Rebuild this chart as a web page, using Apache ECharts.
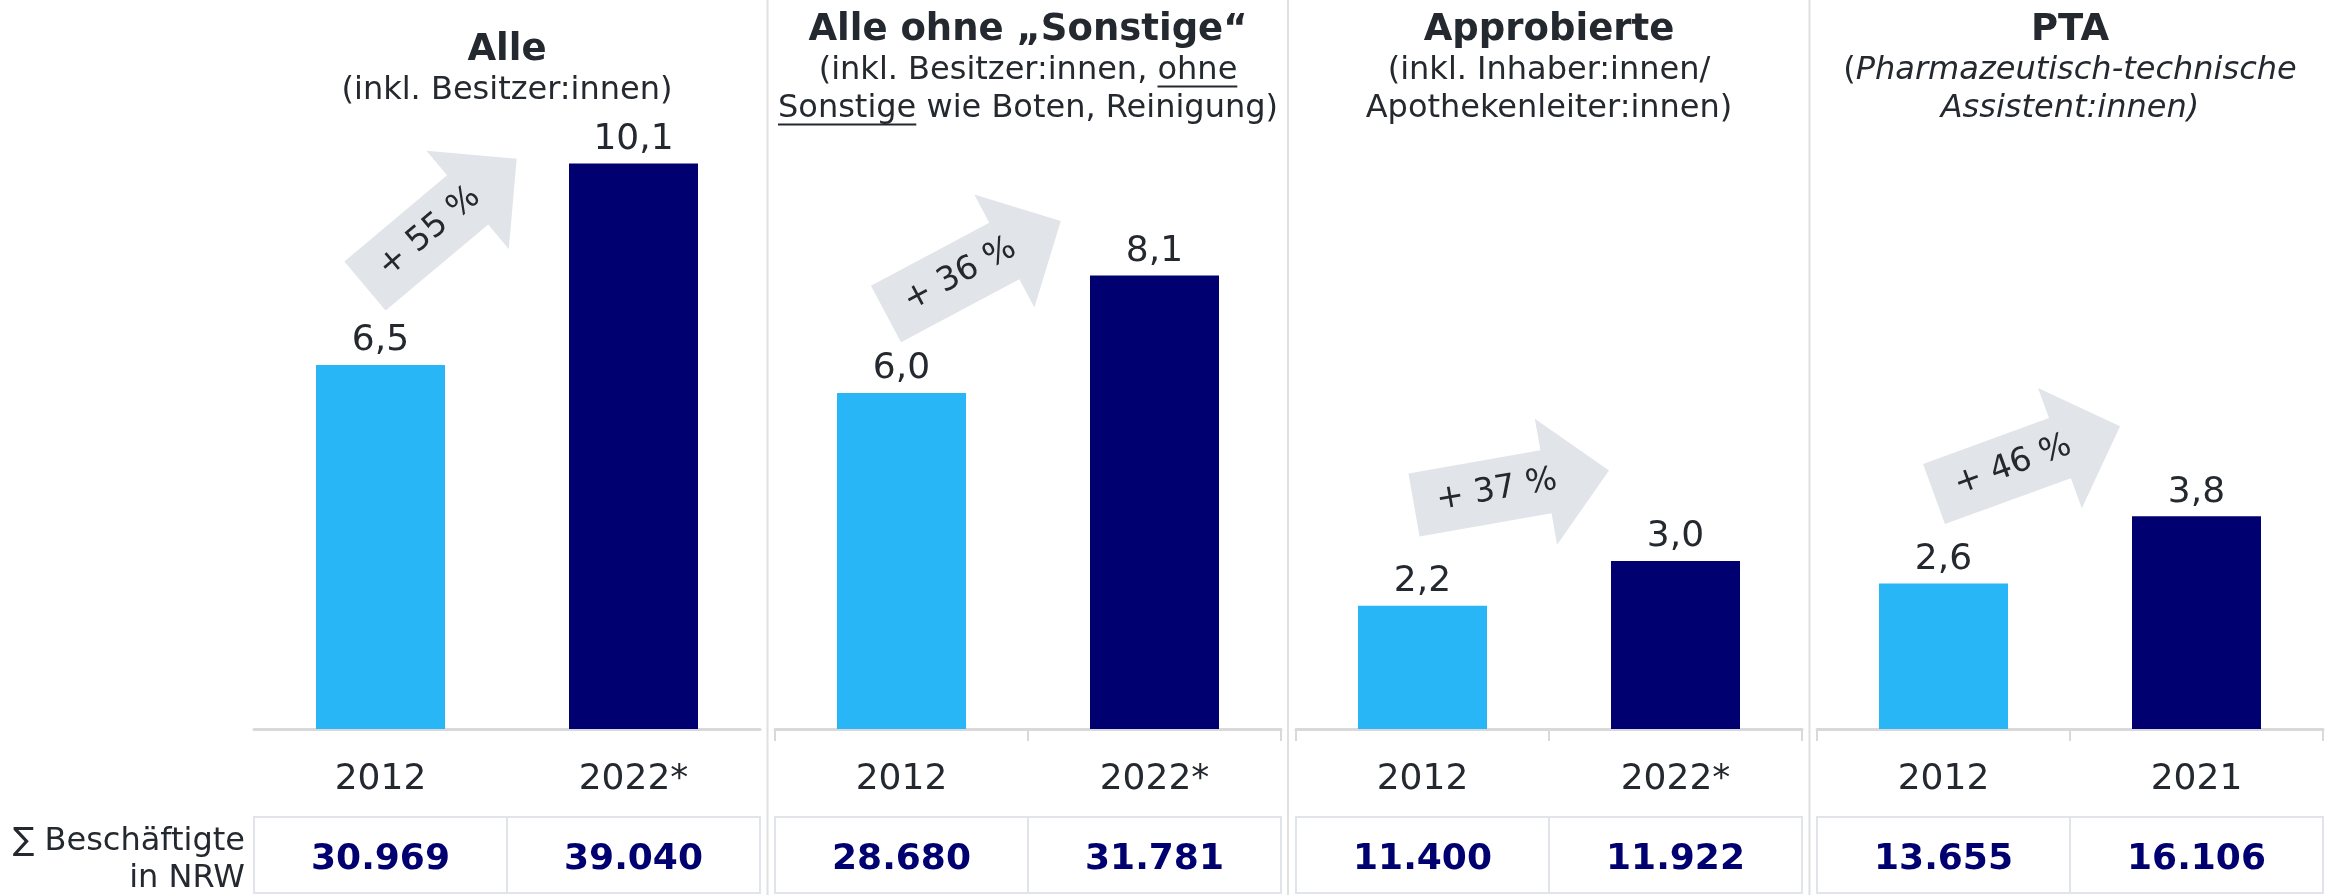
<!DOCTYPE html>
<html>
<head>
<meta charset="utf-8">
<title>Beschäftigte in Apotheken NRW</title>
<script src="https://cdn.jsdelivr.net/npm/echarts@6/dist/echarts.min.js"></script>
<style>
    html, body { margin: 0; padding: 0; background: #fff; }
    #main { width: 2336px; height: 895px; }
</style>
</head>
<body>
<div id="main"></div>
<script>
// Daten
var panelTitles = ['Alle', 'Alle ohne \u201ESonstige\u201C', 'Approbierte', 'PTA'];
var subTitles = [
    ['(inkl. Besitzer:innen)'],
    ['(inkl. Besitzer:innen, ohne', 'Sonstige wie Boten, Reinigung)'],
    ['(inkl. Inhaber:innen/', 'Apothekenleiter:innen)'],
    ['{n|(}{i|Pharmazeutisch-technische}', '{i|Assistent:innen)}']
];
var years = [['2012', '2022*'], ['2012', '2022*'], ['2012', '2022*'], ['2012', '2021']];
var values = [[6.5, 10.1], [6.0, 8.1], [2.2, 3.0], [2.6, 3.8]];
var counts = [[30969, 39040], [28680, 31781], [11400, 11922], [13655, 16106]];
var growthLabels = ['+ 55 %', '+ 36 %', '+ 37 %', '+ 46 %'];

// Layout
var FONT = '"DejaVu Sans", Verdana, sans-serif';
var TXT = '#24282f';
var barColors = ['#29b6f6', '#000070'];
var gridLeft = [254, 775, 1296, 1817];
var gridWidth = 506;
var arrows = [
    {x: 365, y: 286, angle: 40},
    {x: 886, y: 314, angle: 28},
    {x: 1414, y: 505, angle: 10},
    {x: 1934, y: 494, angle: 20}
];
var separators = [767.5, 1288, 1809.5];

function fmtComma(v) {
    return v.toFixed(1).replace('.', ',');
}
function fmtThousands(n) {
    return String(n).replace(/\B(?=(\d{3})+(?!\d))/g, '.');
}

var measureCtx = document.createElement('canvas').getContext('2d');
function textWidth(str, size) {
    measureCtx.font = size + 'px ' + FONT;
    return measureCtx.measureText(str).width;
}

var myChart = echarts.init(document.getElementById('main'));

var grids = [], xAxes = [], yAxes = [], series = [], graphics = [];

for (var i = 0; i < 4; i++) {
    (function (i) {
        grids.push({left: gridLeft[i], width: gridWidth, top: 57, bottom: 166, outerBoundsMode: 'none'});
        xAxes.push({
            gridIndex: i,
            type: 'category',
            data: years[i],
            axisLine: {lineStyle: {color: '#d9d9d9', width: 3}},
            axisTick: {show: i > 0, length: 12, lineStyle: {color: '#d9d9d9', width: 2}},
            axisLabel: {
                interval: 0,
                margin: 13,
                formatter: function (value, idx) {
                    return '{y|' + value + '}\n{c|' + fmtThousands(counts[i][idx]) + '}';
                },
                rich: {
                    y: {fontSize: 36, fontFamily: FONT, color: TXT, lineHeight: 75},
                    c: {
                        fontSize: 36, fontFamily: FONT, fontWeight: 'bold', color: '#000070',
                        width: 253, height: 66, lineHeight: 76, padding: [10, 0, 0, 0],
                        align: 'center', borderColor: '#e1e4e8', borderWidth: 2
                    }
                }
            }
        });
        yAxes.push({gridIndex: i, type: 'value', min: 0, max: 12, show: false});
        series.push({
            type: 'bar',
            xAxisIndex: i,
            yAxisIndex: i,
            barWidth: 129,
            data: values[i].map(function (v, j) {
                return {value: v, itemStyle: {color: barColors[j]}};
            }),
            label: {
                show: true,
                position: 'top',
                distance: 6,
                fontSize: 36,
                fontFamily: FONT,
                color: TXT,
                formatter: function (p) { return fmtComma(p.value); }
            }
        });

        // Überschriften
        var cx = gridLeft[i] + gridWidth / 2;
        var base = 43 + (2 - subTitles[i].length) * 20;
        graphics.push({
            type: 'text', x: cx, y: base - 12.8,
            style: {text: panelTitles[i], fontSize: 37, fontWeight: 'bold', fontFamily: FONT,
                fill: TXT, align: 'center', verticalAlign: 'middle'}
        });
        subTitles[i].forEach(function (line, k) {
            graphics.push({
                type: 'text', x: cx, y: base + 39 + k * 38 - 11.1,
                style: {
                    text: line, fontSize: 32, fontFamily: FONT, fill: TXT,
                    align: 'center', verticalAlign: 'middle',
                    rich: {
                        n: {fontSize: 32, fontFamily: FONT, fill: TXT, fontStyle: 'normal'},
                        i: {fontSize: 32, fontFamily: FONT, fill: TXT, fontStyle: 'italic'}
                    }
                }
            });
        });

        // Pfeil
        var a = arrows[i];
        graphics.push({
            type: 'group', x: a.x, y: a.y, rotation: a.angle * Math.PI / 180,
            children: [
                {type: 'polygon', shape: {points: [[0, -32], [134, -32], [134, -64], [198, 0], [134, 64], [134, 32], [0, 32]]},
                    style: {fill: '#e1e4e8'}},
                {type: 'text', x: 84, y: 0,
                    style: {text: growthLabels[i], fontSize: 33, fontFamily: FONT, fill: TXT,
                        align: 'center', verticalAlign: 'middle'}}
            ]
        });
    })(i);
}

// Unterstreichungen in Panel 2
(function () {
    var cx = gridLeft[1] + gridWidth / 2;
    var l1 = subTitles[1][0], l2 = subTitles[1][1];
    var w1 = textWidth(l1, 32), w2 = textWidth(l2, 32);
    var wo = textWidth('ohne', 32), ws = textWidth('Sonstige', 32);
    graphics.push({type: 'line', shape: {x1: cx + w1 / 2 - wo, y1: 86.5, x2: cx + w1 / 2, y2: 86.5},
        style: {stroke: TXT, lineWidth: 2}});
    graphics.push({type: 'line', shape: {x1: cx - w2 / 2, y1: 124.5, x2: cx - w2 / 2 + ws, y2: 124.5},
        style: {stroke: TXT, lineWidth: 2}});
})();

separators.forEach(function (x) {
    graphics.push({type: 'line', shape: {x1: x, y1: 0, x2: x, y2: 895}, style: {stroke: '#e0e0e0', lineWidth: 2}});
});

graphics.push({
    type: 'text', x: 245, y: 860,
    style: {text: '\u2211 Besch\u00e4ftigte\nin NRW', fontSize: 32, fontFamily: FONT, fill: TXT,
        align: 'right', verticalAlign: 'middle', lineHeight: 37}
});

var option = {
    animation: false,
    backgroundColor: '#ffffff',
    grid: grids,
    xAxis: xAxes,
    yAxis: yAxes,
    series: series,
    graphic: graphics
};

myChart.setOption(option);
</script>
</body>
</html>
